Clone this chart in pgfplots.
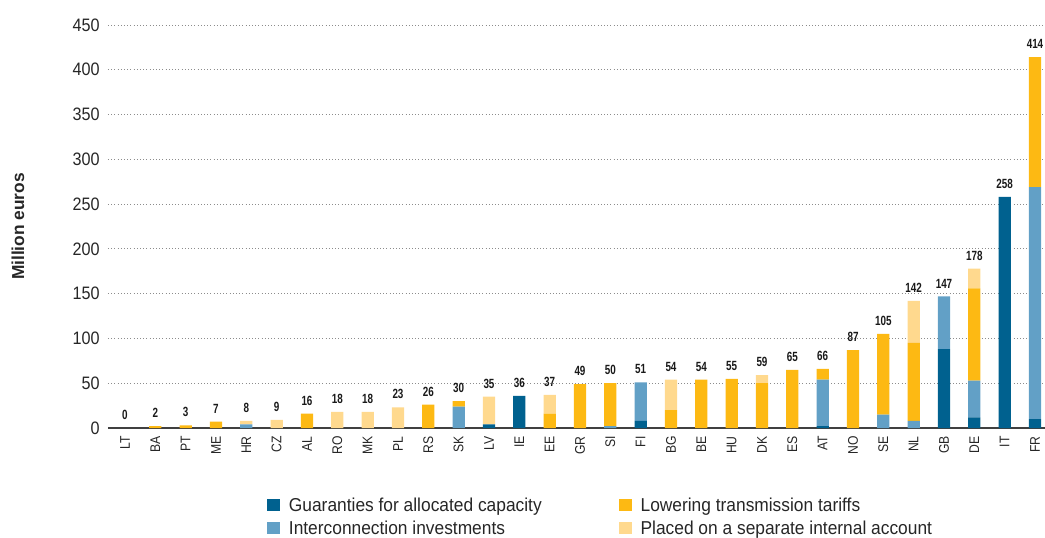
\documentclass[border=0pt]{standalone}
\usepackage{fontspec}
\setmainfont{Liberation Sans}
\newfontfamily\tickfont{Liberation Sans}[FakeStretch=0.9]
\newfontfamily\catfont{Liberation Sans}[FakeStretch=0.87]
\newfontfamily\valfont{Liberation Sans}[FakeStretch=0.74]
\newfontfamily\legfont{Liberation Sans}[FakeStretch=0.93]
\usepackage{pgfplots}
\usepackage{pgfplotstable}
\pgfplotsset{compat=1.18}
\definecolor{cG}{RGB}{0,97,143}
\definecolor{cI}{RGB}{98,160,198}
\definecolor{cL}{RGB}{253,185,19}
\definecolor{cP}{RGB}{255,217,142}
\pgfplotstableread{
n c g i l p t
0 LT 0 0 0 0 0
1 BA 0 0 2 0 2
2 PT 0 0 3 0 3
3 ME 0 0 7 0 7
4 HR 0 4 0 4 8
5 CZ 0 0 0 9 9
6 AL 0 0 16 0 16
7 RO 0 0 0 18 18
8 MK 0 0 0 18 18
9 PL 0 0 0 23 23
10 RS 0 0 26 0 26
11 SK 0 24 6 0 30
12 LV 4 0 0 31 35
13 IE 36 0 0 0 36
14 EE 0 0 16 21 37
15 GR 0 0 49 0 49
16 SI 0 2 48 0 50
17 FI 8 43 0 0 51
18 BG 0 0 20 34 54
19 BE 0 0 54 0 54
20 HU 0 0 55 0 55
21 DK 0 0 50 9 59
22 ES 0 0 65 0 65
23 AT 2 52 12 0 66
24 NO 0 0 87 0 87
25 SE 0 15 90 0 105
26 NL 0 8 87 47 142
27 GB 88 59 0 0 147
28 DE 12 41 103 22 178
29 IT 258 0 0 0 258
30 FR 10 259 145 0 414
}\data
\begin{document}
\begin{tikzpicture}
\useasboundingbox (-81pt,-81.75pt) rectangle (702.75pt,321pt);
\begin{axis}[
  at={(0,0)}, anchor=south west, scale only axis,
  width=702.75pt, height=302.25pt,
  ybar stacked, bar width=9.2pt,
  xmin=-0.56, xmax=30.33, ymin=0, ymax=450,
  xtick={0,...,30}, xticklabels from table={\data}{c},
  ytick={0,50,...,450},
  /pgf/number format/assume math mode=true,
  axis lines*=left,
  x axis line style={draw=black!75, line width=0.9pt},
  y axis line style={draw=none},
  major tick length=0pt, tick style={draw=none},
  ymajorgrids, major grid style={dotted, black!45, line width=0.7pt},
  yticklabel style={font=\tickfont\fontsize{13.5}{14}\selectfont, text=black!85, inner sep=0pt, xshift=-6pt},
  xticklabel style={font=\catfont\fontsize{10.5}{12}\selectfont, text=black!85, rotate=90, anchor=east, inner sep=0pt, xshift=-6pt},
  ylabel={Million euros},
  every axis y label/.style={at={(axis description cs:-0.096,0.5)}, rotate=90, anchor=center, font=\bfseries\fontsize{13}{15}\selectfont, text=black!85},
  legend columns=2, transpose legend, legend cell align=left,
  legend style={at={(0.1697,-0.1736)}, anchor=north west, draw=none, fill=none, inner sep=0pt,
    font=\legfont\fontsize{14}{16}\selectfont, text=black!85,
    nodes={inner sep=0pt},
    /tikz/every odd column/.append style={column sep=6.75pt},
    row sep=5.3pt},
  legend image code/.code={\fill[#1] (0pt,-3.8pt) rectangle (9.5pt,4.9pt);},
]
\addplot[fill=cG, draw=none] table[x=n, y=g]{\data};
\addlegendentry{\makebox[247.5pt][l]{Guaranties for allocated capacity}}
\addplot[fill=cI, draw=none] table[x=n, y=i]{\data};
\addlegendentry{\makebox[247.5pt][l]{Interconnection investments}}
\addplot[fill=cL, draw=none] table[x=n, y=l]{\data};
\addlegendentry{Lowering transmission tariffs}
\addplot[fill=cP, draw=none] table[x=n, y=p]{\data};
\addlegendentry{Placed on a separate internal account}
\end{axis}
\begin{axis}[
  at={(0,0)}, anchor=south west, scale only axis,
  width=702.75pt, height=302.25pt,
  xmin=-0.56, xmax=30.33, ymin=0, ymax=450,
  hide axis, clip=false,
]
\addplot[only marks, mark=none, nodes near coords, point meta=explicit symbolic,
  every node near coord/.append style={font=\valfont\bfseries\fontsize{10}{11}\selectfont, text=black!90, anchor=south, inner sep=0pt, yshift=6pt}]
  table[x=n, y=t, meta=t]{\data};
\end{axis}
\end{tikzpicture}
\end{document}
